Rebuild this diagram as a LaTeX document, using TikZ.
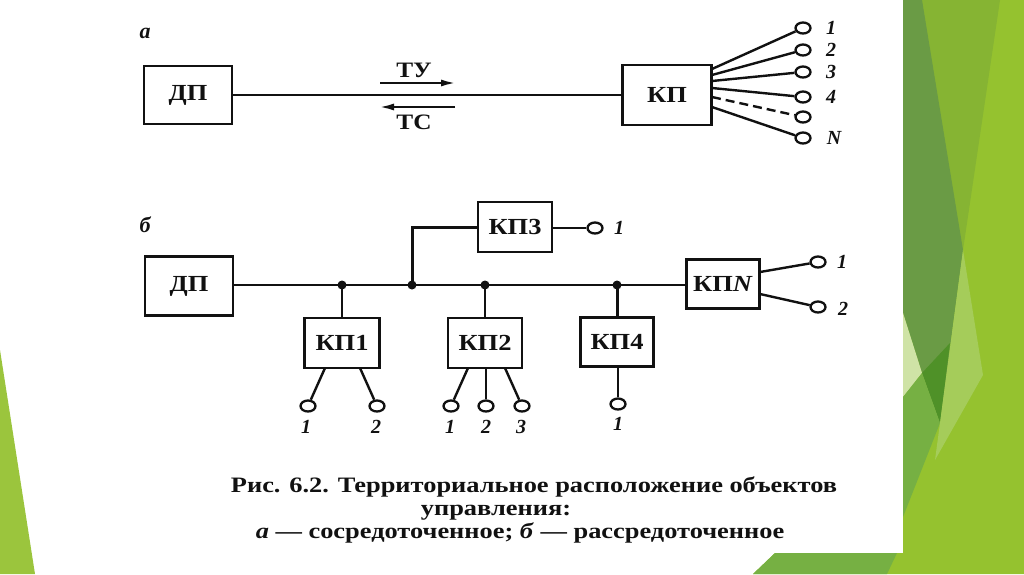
\documentclass[tikz,border=0pt]{standalone}
\usepackage{fontspec}
\setmainfont{Liberation Serif}
\newfontfamily\capfont[FakeStretch=1.2]{Liberation Serif}
\newfontfamily\boxfont[FakeStretch=1.15]{Liberation Serif}
\usetikzlibrary{shapes.geometric,arrows.meta}
\definecolor{gbase}{HTML}{95C22F}
\definecolor{golive}{HTML}{86B433}
\definecolor{gdark}{HTML}{6A9B45}
\definecolor{gpale}{HTML}{CFE3A6}
\definecolor{gdeep}{HTML}{4F9128}
\definecolor{gmed}{HTML}{76B043}
\definecolor{glight}{HTML}{A5CC5A}
\definecolor{gleft}{HTML}{9BC53D}
\definecolor{ink}{HTML}{111111}
\tikzset{
  blk/.style={draw=ink, line width=2.8pt, fill=white, inner sep=0pt,
    font=\boxfont\bfseries\fontsize{23}{25}\selectfont, text=ink},
  wire/.style={draw=ink, line width=2.4pt},
  term/.style={ellipse, draw=ink, line width=2.3pt, fill=white, inner sep=0pt,
    minimum width=15pt, minimum height=11pt},
  num/.style={font=\bfseries\itshape\fontsize{20}{22}\selectfont, text=ink, inner sep=0pt},
  tag/.style={font=\bfseries\itshape\fontsize{22}{24}\selectfont, text=ink, inner sep=0pt},
  sig/.style={font=\boxfont\bfseries\fontsize{22}{24}\selectfont, text=ink, inner sep=0pt},
  sigarrow/.style={draw=ink, line width=2.3pt, -{Latex[length=15pt,width=7pt]}},
  dot/.style={circle, fill=ink, inner sep=0pt, minimum size=9pt},
  captext/.style={font=\capfont\bfseries\fontsize{22}{24}\selectfont, text=ink, inner sep=0pt, anchor=base}
}
\begin{document}
\begin{tikzpicture}[x=1pt,y=-1pt]
\useasboundingbox (0,0) rectangle (1024,574);
\fill[white] (0,0) rectangle (1024,574);
% --- slide decoration ---
\fill[gleft] (0,350) -- (35,574) -- (0,574) -- cycle;
\fill[gbase] (903,0) rectangle (1024,574);
\fill[gbase] (753,574) -- (775,553) -- (1024,553) -- (1024,574) -- cycle;
\fill[gmed] (753,574) -- (775,553) -- (897,553) -- (887,574) -- cycle;
\fill[golive] (903,0) -- (1000,0) -- (963,250) -- (903,250) -- cycle;
\fill[gdark] (903,0) -- (922,0) -- (963,250) -- (940,423) -- (922,373) -- (903,313) -- cycle;
\fill[gpale] (903,313) -- (922,373) -- (903,397) -- cycle;
\fill[gdeep] (922,373) -- (950,343) -- (940,423) -- cycle;
\fill[gmed] (903,397) -- (922,373) -- (940,423) -- (903,517) -- cycle;
\fill[glight] (963,250) -- (983,375) -- (935,460) -- (940,423) -- cycle;
% --- panel a ---
\node[tag] (la) at (145,33) {а};
\node[blk, minimum width=88pt, minimum height=58pt] (dpa) at (188,95) {ДП};
\node[blk, minimum width=89pt, minimum height=60pt] (kpa) at (667,95) {КП};
\draw[wire] (dpa) -- (kpa);
\coordinate (tu1) at (380,83); \coordinate (tu2) at (456,83);
\coordinate (ts1) at (455,107); \coordinate (ts2) at (379,107);
\draw[sigarrow] (tu1) -- (tu2);
\draw[sigarrow] (ts1) -- (ts2);
\node[sig] (tutext) at (414,70) {ТУ};
\node[sig] (tstext) at (414,122) {ТС};
\coordinate (ka1) at (712,69);
\coordinate (ka2) at (712,75);
\coordinate (ka3) at (712,81);
\coordinate (ka4) at (712,88);
\coordinate (ka5) at (712,97);
\coordinate (ka6) at (712,107);
\node[term] (ta1) at (803,28) {};
\node[term] (ta2) at (803,50) {};
\node[term] (ta3) at (803,72) {};
\node[term] (ta4) at (803,97) {};
\node[term] (ta5) at (803,117) {};
\node[term] (ta6) at (803,138) {};
\draw[wire] (ka1) -- (ta1);
\draw[wire] (ka2) -- (ta2);
\draw[wire] (ka3) -- (ta3);
\draw[wire] (ka4) -- (ta4);
\draw[wire, dash pattern=on 9pt off 5pt] (ka5) -- (ta5);
\draw[wire] (ka6) -- (ta6);
\node[num] (na1) at (831,28) {1};
\node[num] (na2) at (831,50) {2};
\node[num] (na3) at (831,72) {3};
\node[num] (na4) at (831,97) {4};
\node[num] (na6) at (834,138) {N};
% --- panel b ---
\node[tag] (lb) at (145,225) {б};
\node[blk, minimum width=88pt, minimum height=59pt] (dpb) at (189,286) {ДП};
\node[blk, minimum width=74pt, minimum height=50pt] (kp3) at (515,227) {КП3};
\node[blk, minimum width=75pt, minimum height=50pt] (kp1) at (342,343) {КП1};
\node[blk, minimum width=74pt, minimum height=50pt] (kp2) at (485,343) {КП2};
\node[blk, minimum width=73pt, minimum height=49pt] (kp4) at (617,342) {КП4};
\node[blk, minimum width=73pt, minimum height=49pt] (kpn) at (723,284) {КП\textit{N}};
\coordinate (j0) at (233,285);
\node[dot] (j1) at (342,285) {};
\node[dot] (j2) at (412,285) {};
\node[dot] (j3) at (485,285) {};
\node[dot] (j4) at (617,285) {};
\draw[wire] (j0) -- (j1.center) -- (j2.center) -- (j3.center) -- (j4.center) -- (kpn.west |- j4);
\draw[wire, line width=3pt] (j2.center) |- (kp3.west);
\draw[wire] (j1.center) -- (kp1.north);
\draw[wire] (j3.center) -- (kp2.north);
\draw[wire, line width=3pt] (j4.center) -- (kp4.north);
% kp3 output
\node[term] (t31) at (595,228) {};
\draw[wire] (kp3.east |- t31) -- (t31);
\node[num] (n31) at (619,228) {1};
% kp1 outputs
\coordinate (k11) at (325,368); \coordinate (k12) at (360,368);
\node[term] (t11) at (308,406) {};
\node[term] (t12) at (377,406) {};
\draw[wire] (k11) -- (t11);
\draw[wire] (k12) -- (t12);
\node[num] (n11) at (306,427) {1};
\node[num] (n12) at (376,427) {2};
% kp2 outputs
\coordinate (k21) at (468,368); \coordinate (k22) at (486,368); \coordinate (k23) at (505,368);
\node[term] (t21) at (451,406) {};
\node[term] (t22) at (486,406) {};
\node[term] (t23) at (522,406) {};
\draw[wire] (k21) -- (t21);
\draw[wire] (k22) -- (t22);
\draw[wire] (k23) -- (t23);
\node[num] (n21) at (450,427) {1};
\node[num] (n22) at (486,427) {2};
\node[num] (n23) at (521,427) {3};
% kp4 output
\node[term] (t41) at (618,404) {};
\draw[wire] (kp4.south -| t41) -- (t41);
\node[num] (n41) at (618,424) {1};
% kpN outputs
\coordinate (kn1) at (760,272); \coordinate (kn2) at (760,294);
\node[term] (tn1) at (818,262) {};
\node[term] (tn2) at (818,307) {};
\draw[wire] (kn1) -- (tn1);
\draw[wire] (kn2) -- (tn2);
\node[num] (nn1) at (842,262) {1};
\node[num] (nn2) at (843,309) {2};
% --- caption ---
\node[captext] (c1) at (534,492) {Рис. 6.2. Территориальное расположение объектов};
\node[captext] (c2) at (496,515) {управления:};
\node[captext] (c3) at (520,538) {\textit{а} — сосредоточенное; \textit{б} — рассредоточенное};
\end{tikzpicture}
\end{document}
